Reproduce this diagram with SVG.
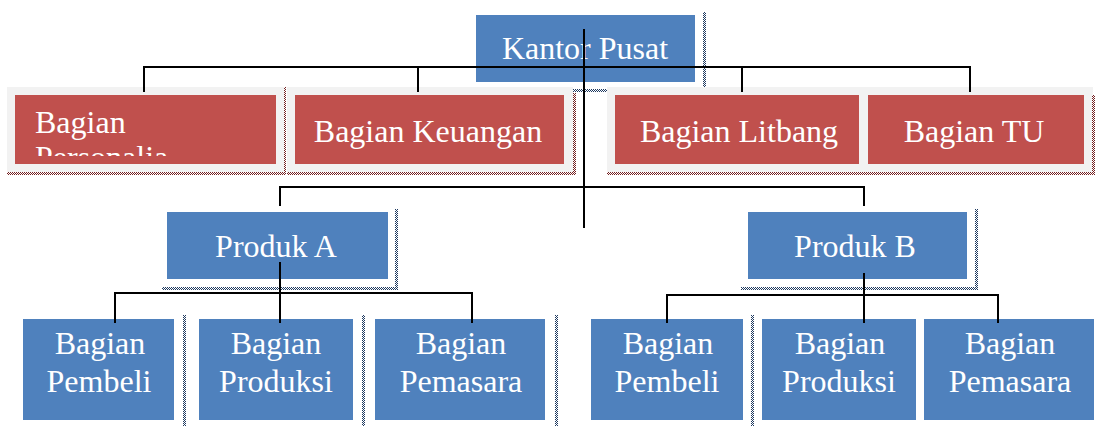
<svg xmlns="http://www.w3.org/2000/svg" width="1096" height="426" viewBox="0 0 1096 426">
  <defs>
    <!-- checkered frame strokes -->
    <pattern id="chkNavy" width="2" height="2" patternUnits="userSpaceOnUse">
      <rect width="2" height="2" fill="#ffffff"/>
      <rect width="1" height="1" fill="#1F3A60"/>
      <rect x="1" y="1" width="1" height="1" fill="#1F3A60"/>
    </pattern>
    <pattern id="chkRed" width="2" height="2" patternUnits="userSpaceOnUse">
      <rect width="2" height="2" fill="#ffffff"/>
      <rect width="1" height="1" fill="#742020"/>
      <rect x="1" y="1" width="1" height="1" fill="#742020"/>
    </pattern>
    <clipPath id="clipPers"><rect x="15" y="95" width="261" height="61"/></clipPath>
    <clipPath id="clipA1"><rect x="23" y="319" width="151" height="92"/></clipPath>
    <clipPath id="clipA2"><rect x="199" y="319" width="154" height="92"/></clipPath>
    <clipPath id="clipB1"><rect x="591" y="319" width="152" height="92"/></clipPath>
    <clipPath id="clipB2"><rect x="762" y="319" width="154" height="92"/></clipPath>
  </defs>
  <style>
    .blue { fill: #4F81BD; }
    .red { fill: #C0504D; }
    .band { fill: #F2F2F2; }
    .dn { fill: url(#chkNavy); }
    .dr { fill: url(#chkRed); }
    text { font-family: "Liberation Serif", "Times New Roman", serif; font-size: 32px; fill: #ffffff; }
    .c { text-anchor: middle; }
    .conn line { stroke: #000000; stroke-width: 2; }
  </style>

  <rect width="1096" height="426" fill="#ffffff"/>

  <!-- top level -->
  <g id="kantor-pusat">
    <rect class="dn" x="703" y="12" width="3" height="80"/>
    <rect class="dn" x="572" y="89" width="134" height="3"/>
    <rect class="blue" x="476" y="15" width="219" height="67"/>
    <text class="c" x="585" y="59">Kantor Pusat</text>
  </g>

  <!-- staff departments -->
  <g id="bagian-personalia">
    <rect class="band" x="7" y="87" width="278" height="85"/>
    <rect class="dr" x="7" y="172" width="279" height="3"/>
    <rect class="dr" x="284" y="87" width="2" height="88"/>
    <rect class="red" x="15" y="95" width="261" height="69"/>
    <g clip-path="url(#clipPers)">
      <text x="35" y="133">Bagian</text>
      <text x="35" y="168">Personalia</text>
    </g>
  </g>

  <g id="bagian-keuangan">
    <rect class="band" x="287" y="87" width="286" height="85"/>
    <rect class="dr" x="287" y="172" width="289" height="3"/>
    <rect class="dr" x="573" y="93" width="3" height="82"/>
    <rect class="red" x="295" y="95" width="269" height="69"/>
    <text class="c" x="428" y="142">Bagian Keuangan</text>
  </g>

  <g id="bagian-litbang">
    <rect class="band" x="607" y="87" width="486" height="85"/>
    <rect class="dr" x="607" y="172" width="488" height="3"/>
    <rect class="dr" x="1092" y="95" width="3" height="80"/>
    <rect class="red" x="615" y="95" width="244" height="69"/>
    <text class="c" x="739" y="142">Bagian Litbang</text>
  </g>

  <g id="bagian-tu">
    <rect class="red" x="868" y="95" width="216" height="69"/>
    <text class="c" x="974" y="142">Bagian TU</text>
  </g>

  <!-- product divisions -->
  <g id="produk-a">
    <rect class="dn" x="395" y="209" width="3" height="81"/>
    <rect class="dn" x="162" y="287" width="236" height="3"/>
    <rect class="blue" x="167" y="212" width="221" height="67"/>
    <text class="c" x="276" y="257">Produk A</text>
  </g>

  <g id="produk-b">
    <rect class="dn" x="975" y="209" width="3" height="81"/>
    <rect class="dn" x="741" y="287" width="237" height="3"/>
    <rect class="blue" x="748" y="212" width="219" height="67"/>
    <text class="c" x="855" y="257">Produk B</text>
  </g>

  <!-- units under Produk A -->
  <g id="a-pembeli">
    <rect class="dn" x="183" y="315" width="3" height="111"/>
    <rect class="blue" x="23" y="319" width="151" height="101"/>
    <g clip-path="url(#clipA1)">
      <text class="c" x="100" y="354">Bagian</text>
      <text class="c" x="99" y="392">Pembeli</text>
      <text x="77" y="432">Pusat</text>
    </g>
  </g>

  <g id="a-produksi">
    <rect class="dn" x="362" y="315" width="3" height="111"/>
    <rect class="blue" x="199" y="319" width="154" height="101"/>
    <g clip-path="url(#clipA2)">
      <text class="c" x="276" y="354">Bagian</text>
      <text class="c" x="276" y="392">Produksi</text>
      <text x="257" y="432">Pusat</text>
    </g>
  </g>

  <g id="a-pemasaran">
    <rect class="dn" x="555" y="315" width="3" height="111"/>
    <rect class="blue" x="375" y="319" width="170" height="101"/>
    <text class="c" x="461" y="354">Bagian</text>
    <text class="c" x="461" y="392">Pemasara</text>
  </g>

  <!-- units under Produk B -->
  <g id="b-pembeli">
    <rect class="dn" x="751" y="315" width="3" height="111"/>
    <rect class="blue" x="591" y="319" width="152" height="101"/>
    <g clip-path="url(#clipB1)">
      <text class="c" x="668" y="354">Bagian</text>
      <text class="c" x="667" y="392">Pembeli</text>
      <text x="645" y="432">Pusat</text>
    </g>
  </g>

  <g id="b-produksi">
    <rect class="blue" x="762" y="319" width="154" height="101"/>
    <g clip-path="url(#clipB2)">
      <text class="c" x="840" y="354">Bagian</text>
      <text class="c" x="839" y="392">Produksi</text>
      <text x="821" y="432">Pusat</text>
    </g>
  </g>

  <g id="b-pemasaran">
    <rect class="blue" x="924" y="319" width="170" height="101"/>
    <text class="c" x="1010" y="354">Bagian</text>
    <text class="c" x="1010" y="392">Pemasara</text>
  </g>

  <!-- connectors -->
  <g id="connectors" class="conn">
    <line x1="584" y1="29" x2="584" y2="228"/>
    <line x1="143" y1="67" x2="971" y2="67"/>
    <line x1="144" y1="66" x2="144" y2="92"/>
    <line x1="418" y1="66" x2="418" y2="92"/>
    <line x1="742" y1="66" x2="742" y2="92"/>
    <line x1="970" y1="66" x2="970" y2="92"/>

    <line x1="279" y1="187" x2="865" y2="187"/>
    <line x1="280" y1="186" x2="280" y2="206"/>
    <line x1="864" y1="186" x2="864" y2="206"/>

    <line x1="280" y1="262" x2="280" y2="323"/>
    <line x1="114" y1="293" x2="473" y2="293"/>
    <line x1="115" y1="292" x2="115" y2="323"/>
    <line x1="472" y1="292" x2="472" y2="323"/>

    <line x1="864" y1="273" x2="864" y2="323"/>
    <line x1="666" y1="295" x2="999" y2="295"/>
    <line x1="667" y1="294" x2="667" y2="323"/>
    <line x1="998" y1="294" x2="998" y2="323"/>
  </g>
</svg>
